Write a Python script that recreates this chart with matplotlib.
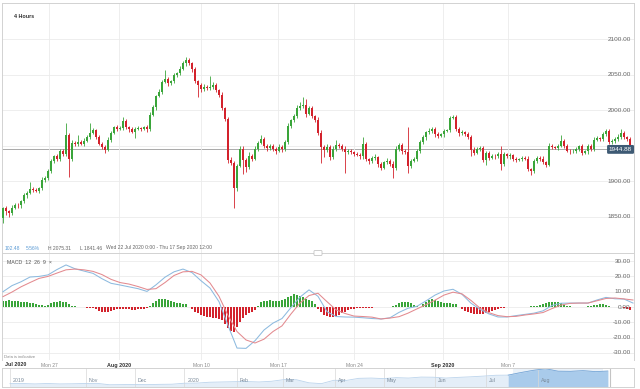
import matplotlib
matplotlib.use("Agg")
import matplotlib.pyplot as plt
import matplotlib.transforms as mtransforms
from matplotlib.patches import FancyBboxPatch
import numpy as np

plt.rcParams['font.family'] = ['Liberation Sans', 'DejaVu Sans']

# ---- data (4 hour candles, 22 Jul - 17 Sep 2020) ----
first_open = 1848.0
closes = [
    1862, 1858, 1856, 1863, 1867, 1866, 1872, 1880, 1884, 1889,
    1888, 1887, 1890, 1902, 1904, 1915, 1928, 1935, 1931, 1942,
    1938, 1965, 1932, 1954, 1952, 1955, 1953, 1957, 1962, 1968,
    1972, 1962, 1953, 1948, 1944, 1958, 1968, 1976, 1974, 1975,
    1985, 1976, 1973, 1970, 1974, 1975, 1974, 1976, 1973, 1994,
    2004, 2020, 2026, 2040, 2044, 2038, 2041, 2049, 2052, 2058,
    2066, 2071, 2066, 2058, 2041, 2035, 2030, 2033, 2031, 2033,
    2036, 2028, 2022, 2003, 1988, 1930, 1926, 1890, 1922, 1945,
    1930, 1920, 1936, 1932, 1946, 1954, 1959, 1950, 1947, 1949,
    1946, 1943, 1948, 1946, 1955, 1978, 1986, 1992, 2003, 2006,
    2008, 1995, 2003, 1992, 1986, 1968, 1948, 1944, 1948, 1934,
    1945, 1951, 1950, 1946, 1941, 1943, 1941, 1939, 1937, 1935,
    1952, 1931, 1928, 1933, 1934, 1924, 1919, 1927, 1929, 1925,
    1918, 1945, 1951, 1943, 1941, 1921, 1929, 1932, 1942, 1955,
    1962, 1969, 1971, 1973, 1967, 1964, 1966, 1971, 1972, 1989,
    1991, 1974, 1968, 1969, 1966, 1962, 1944, 1940, 1945, 1947,
    1930, 1940, 1933, 1936, 1935, 1938, 1924, 1938, 1935, 1937,
    1931, 1930, 1931, 1933, 1932, 1917, 1915, 1928, 1933, 1932,
    1927, 1923, 1950, 1948, 1947, 1950, 1957, 1950, 1943, 1942,
    1943, 1945, 1949, 1940, 1942, 1949, 1945, 1958, 1961, 1960,
    1966, 1971, 1955, 1957, 1959, 1963, 1968, 1962, 1960, 1944.88,
]
upper_wick = [
    2, 3, 2, 4, 2, 3, 2, 3, 2, 10,
    3, 2, 2, 4, 3, 2, 3, 2, 4, 3,
    3, 17, 3, 4, 2, 10, 3, 4, 3, 14,
    3, 2, 3, 2, 3, 4, 3, 2, 3, 3,
    6, 3, 2, 3, 2, 3, 2, 2, 3, 4,
    3, 2, 4, 3, 13, 3, 2, 3, 2, 4,
    3, 4.31, 3, 2, 3, 2, 3, 4, 3, 15,
    4, 3, 2, 3, 2, 3, 4, 3, 3, 4,
    4, 3, 5, 3, 4, 3, 6, 3, 2, 3,
    3, 2, 4, 3, 3, 4, 2, 3, 4, 5,
    10, 8, 3, 3, 2, 5, 4, 3, 4, 3,
    4, 7, 3, 2, 3, 2, 3, 2, 2, 3,
    11, 3, 2, 3, 4, 2, 3, 2, 4, 3,
    3, 4, 3, 3, 2, 36, 3, 2, 3, 3,
    3, 2, 4, 3, 4, 3, 2, 3, 2, 3,
    3, 2, 3, 3, 2, 3, 3, 4, 3, 2,
    3, 3, 2, 3, 2, 3, 11, 3, 2, 3,
    2, 3, 2, 3, 2, 3, 2, 4, 3, 2,
    3, 2, 4, 3, 2, 3, 8, 3, 2, 3,
    2, 3, 2, 3, 2, 3, 3, 4, 3, 2,
    3, 2, 3, 2, 3, 3, 6, 3, 2, 3,
]
lower_wick = [
    6.54, 5, 7, 3, 2, 4, 3, 2, 3, 2,
    3, 2, 3, 2, 3, 2, 3, 2, 3, 2,
    3, 2, 26, 3, 2, 3, 2, 3, 2, 3,
    2, 3, 2, 3, 4, 2, 3, 2, 3, 2,
    3, 2, 3, 2, 9, 2, 3, 2, 3, 2,
    2, 3, 2, 3, 2, 4, 2, 3, 2, 3,
    2, 3, 2, 4, 3, 17, 5, 3, 2, 3,
    3, 2, 3, 2, 3, 4, 3, 27, 3, 2,
    20, 7, 3, 4, 2, 3, 2, 3, 4, 3,
    3, 4, 2, 5, 3, 2, 3, 2, 3, 2,
    3, 4, 2, 3, 2, 3, 22, 10, 3, 4,
    3, 2, 3, 4, 29, 3, 2, 3, 2, 3,
    3, 2, 3, 2, 3, 4, 3, 2, 3, 4,
    13, 2, 3, 4, 3, 9, 3, 2, 3, 2,
    3, 4, 2, 3, 4, 3, 2, 3, 2, 3,
    2, 3, 4, 3, 2, 3, 9, 3, 2, 3,
    3, 7, 3, 2, 3, 2, 8, 3, 2, 3,
    2, 3, 2, 3, 2, 3, 6, 3, 2, 3,
    2, 3, 2, 3, 2, 3, 2, 3, 2, 3,
    2, 3, 2, 3, 2, 3, 2, 3, 2, 3,
    3, 2, 3, 2, 3, 2, 3, 2, 3, 2,
]

# MACD(12,26,9) lines, one point every 3 candles
macd_line = [
    10, 14, 16.5, 19.6, 20, 21, 24.5, 27.5, 25, 23.5,
    22, 18.5, 15.5, 14.4, 13.2, 12, 10.2, 14.5, 19.5, 23,
    24.8, 22.5, 17.2, 12.4, 3.5, -12, -26.8, -27, -22, -15,
    -10.5, -7.5, -0.3, 6.5, 11.2, 7, -3, -6.2, -6.5, -6.6,
    -7, -7.5, -7.8, -7, -3.5, -0.8, 0.5, 4, 7.8, 10.5,
    11.6, 8.3, 2.5, -1.5, -4.5, -6.5, -6.5, -5.6, -4.8, -4,
    -2.5, 1, 2.5, 2.6, 2.6, 2.6, 4.6, 6.3, 5.4, 5.2,
    2.6,
]
signal_line = [
    6.8, 9.8, 13.2, 16, 18.7, 20, 22.2, 24.3, 24.8, 24.3,
    23.3, 21.2, 18.1, 16, 15, 13.4, 11.5, 12, 16, 20.6,
    23, 23.3, 21, 15.7, 7, -5.5, -16, -21.5, -23.5, -21,
    -16, -12.3, -4.5, 2.6, 7.5, 9, 3.5, -1.8, -4.2, -5.9,
    -6.2, -6.6, -7.8, -7.2, -6.3, -4, -1.2, 1.5, 4.5, 7.8,
    9.7, 8.6, 4.3, -0.7, -3.7, -5.6, -6.3, -6.1, -5.2, -4.5,
    -3.6, -1, 1.3, 2.4, 2.6, 2.6, 4.1, 5.6, 5.9, 5.3,
    4.6,
]
macd_hist = [
    4.0, 4.2, 4.3, 4.2, 4.1, 4.0, 3.6, 3.4, 3.2, 2.9,
    2.6, 2.3, 1.6, 1.2, 1.0, 1.3, 2.4, 3.2, 3.6, 3.8,
    3.5, 3.4, 2.0, 1.0, 0.5, 0.2, -0.2, -0.3, -0.5, -0.6,
    -0.7, -1.2, -2.3, -3.0, -3.4, -3.2, -2.6, -2.0, -1.6, -1.3,
    -1.2, -1.3, -1.6, -1.8, -1.7, -1.5, -1.3, -1.0, -0.6, 0.4,
    2.5, 4.0, 5.0, 5.5, 5.3, 4.6, 3.8, 3.0, 2.6, 2.4,
    2.2, 1.8, 0.3, -1.5, -3.0, -4.2, -5.0, -5.6, -6.2, -6.6,
    -7.0, -7.4, -7.6, -8.5, -11.0, -13.5, -15.5, -16.3, -13.0, -9.5,
    -7.0, -5.0, -4.0, -3.4, -2.0, 1.0, 3.0, 4.0, 4.2, 4.3,
    4.2, 4.0, 4.2, 4.6, 5.5, 6.5, 7.5, 8.3, 8.0, 7.3,
    6.5, 5.5, 4.6, 3.8, 2.0, -1.5, -3.5, -5.0, -6.0, -6.5,
    -6.4, -5.8, -5.0, -4.0, -3.0, -2.2, -1.6, -1.2, -0.9, -0.7,
    -0.6, -0.8, -0.5, -0.4, -0.3, 0.2, -0.3, -0.2, 0.3, -0.2,
    0.5, 1.5, 2.5, 3.0, 3.3, 3.1, 2.4, 1.5, 0.4, 0.3,
    2.0, 3.5, 4.6, 5.2, 4.9, 4.0, 3.0, 2.8, 2.6, 2.5,
    2.3, 1.8, 0.3, -1.0, -2.3, -3.3, -4.0, -4.6, -4.8, -4.8,
    -4.5, -4.0, -3.2, -2.5, -1.8, -1.2, -0.7, -0.4, -0.2, -0.2,
    0.1, -0.1, 0.2, 0.3, -0.1, 0.2, 0.4, 0.8, 1.0, 1.3,
    1.8, 2.5, 3.0, 3.3, 3.3, 3.0, 2.4, 1.6, 0.8, 0.4,
    0.2, 0.1, 0.3, -0.1, 0.2, 0.4, 0.9, 1.3, 1.6, 1.7,
    1.8, 1.5, 0.6, 0.2, -0.2, -0.1, 0.3, -0.4, -1.0, -2.0,
]

price_ticks = [1850, 1900, 1950, 2000, 2050, 2100]
price_labelled = [1850, 1900, 2000, 2050, 2100]
macd_ticks = [-30, -20, -10, 0, 10, 20, 30]
date_labels = ["Mon 27", "Aug 2020", "Mon 10", "Mon 17", "Mon 24", "Sep 2020", "Mon 7"]

# weekly closes for the navigator strip (Sep 2019 - Sep 2020)
nav_values = [
    1500, 1505, 1490, 1505, 1490, 1495, 1505, 1510, 1460, 1465,
    1470, 1465, 1475, 1480, 1515, 1520, 1550, 1560, 1570, 1575,
    1560, 1585, 1645, 1640, 1530, 1500, 1620, 1615, 1690, 1700,
    1680, 1715, 1700, 1735, 1730, 1700, 1725, 1745, 1770, 1800,
    1805, 1895, 1975, 2035, 1945, 1940, 1965, 1930, 1950,
]
nav_months = ["2019", "Nov", "Dec", "2020", "Feb", "Mar", "Apr", "May", "Jun", "Jul", "Aug"]

# ---- layout (pixel based) ----
W, H = 640, 389
UP, DOWN = '#3aa53a', '#d3222c'
GRID = '#ebebeb'
EDGE = '#d2d2d2'
TXT = '#666666'


def box(x0, y0, x1, y1):
    return [x0 / W, 1 - y1 / H, (x1 - x0) / W, (y1 - y0) / H]


def fx(x):
    return x / W


def fy(y):
    return 1 - y / H


fig = plt.figure(figsize=(W / 100, H / 100), dpi=100)
fig.patch.set_facecolor('white')

closes = np.array(closes, dtype=float)
n = len(closes)
idx = np.arange(n)
opens = np.concatenate([[first_open], closes[:-1]])
highs = np.maximum(opens, closes) + np.array(upper_wick)
lows = np.minimum(opens, closes) - np.array(lower_wick)
col = np.where(closes >= opens, UP, DOWN)

date_pos = [15.3, 38.7, 66, 91.7, 117, 146.7, 168.3]
xlo, xhi = -1 / 3, 631 / 3

# price panel
ax_p = fig.add_axes(box(2, 3, 634, 253))
ax_p.vlines(idx, lows, highs, colors=col, lw=0.6, zorder=2)
ax_p.bar(idx, np.maximum(np.abs(closes - opens), 0.9), bottom=np.minimum(opens, closes),
         width=0.72, color=col, lw=0, zorder=3)
ax_p.axhline(closes[-1], color='#a9a9a9', lw=0.7, zorder=1)
ax_p.set_xlim(xlo, xhi)
ax_p.set_ylim(1799, 2151)
ax_p.set_yticks(price_ticks)
ax_p.set_xticks(date_pos)
ax_p.grid(True, color=GRID, lw=0.6, zorder=0)
ax_p.tick_params(length=0, labelleft=False, labelbottom=False)
for s in ax_p.spines.values():
    s.set_color(EDGE)
    s.set_linewidth(0.7)

tr_p = mtransforms.blended_transform_factory(ax_p.transAxes, ax_p.transData)
for v in price_labelled:
    ax_p.text(0.995, v, f"{v:.2f}", transform=tr_p, ha='right', va='center',
              fontsize=4.6, color=TXT)
ax_p.text(0.997, closes[-1], f"{closes[-1]:.2f}", transform=tr_p, ha='right', va='center',
          fontsize=4.6, color='white', zorder=5,
          bbox=dict(boxstyle='round,pad=0.3,rounding_size=0.2', fc='#3e5a74', ec='none'))

fig.text(fx(14), fy(17), "4 Hours", fontsize=3.9, fontweight='bold', color='#333333',
         ha='left', va='center')

info = [(5, "102.48", '#5b9bd5'), (26, "5.56%", '#5b9bd5'), (48, "H 2075.31", TXT),
        (80, "L 1841.46", TXT), (106, "Wed 22 Jul 2020 0:00 - Thu 17 Sep 2020 12:00", TXT)]
for x, s, c in info:
    fig.text(fx(x), fy(248), s, fontsize=3.6, color=c, ha='left', va='center')

# MACD panel
ax_m = fig.add_axes(box(2, 253, 634, 360))
hcol = np.where(np.array(macd_hist) >= 0, UP, DOWN)
ax_m.bar(idx, macd_hist, width=0.62, color=hcol, lw=0, zorder=2)
line_idx = np.arange(len(macd_line)) * 3
ax_m.plot(line_idx, macd_line, color='#8dbadf', lw=0.75, zorder=3)
ax_m.plot(line_idx, signal_line, color='#e38a8f', lw=0.75, zorder=3)
ax_m.set_xlim(xlo, xhi)
ax_m.set_ylim(-34.6, 35.3)
ax_m.set_yticks(macd_ticks)
ax_m.set_xticks(date_pos)
ax_m.grid(True, color=GRID, lw=0.6, zorder=0)
ax_m.set_xticklabels(date_labels)
ax_m.tick_params(axis='y', length=0, labelleft=False)
ax_m.tick_params(axis='x', length=0, pad=2.2, labelsize=3.6, labelcolor='#888888')
for lbl in ax_m.get_xticklabels():
    if "2020" in lbl.get_text():
        lbl.set_fontweight('bold')
        lbl.set_color('#333333')
        lbl.set_fontsize(3.9)
for k, s in ax_m.spines.items():
    s.set_color(EDGE)
    s.set_linewidth(0.7)
ax_m.spines['bottom'].set_visible(False)

tr_m = mtransforms.blended_transform_factory(ax_m.transAxes, ax_m.transData)
for v in macd_ticks:
    ax_m.text(0.995, v, f"{v:.2f}", transform=tr_m, ha='right', va='center',
              fontsize=4.6, color=TXT)

fig.text(fx(7), fy(262), "MACD  12  26  9  \u00d7", fontsize=3.8, color='#555555',
         ha='left', va='center')
fig.text(fx(4), fy(357), "Data is indicative", fontsize=3.0, color='#888888',
         ha='left', va='center')
fig.text(fx(5), fy(365), "Jul 2020", fontsize=3.9, fontweight='bold', color='#333333',
         ha='left', va='center')

# little resize handle between panels
fig.patches.append(FancyBboxPatch((fx(314), fy(255.5)), 8 / W, 5 / H,
                                  boxstyle='round,pad=0,rounding_size=0.002',
                                  transform=fig.transFigure, fc='white', ec='#bbbbbb', lw=0.5))

# navigator strip
ax_n = fig.add_axes(box(2, 368, 634, 387))
weeks = np.arange(len(nav_values))
ax_n.fill_between(weeks, nav_values, 1380, color='#e4eef8', lw=0)
ax_n.plot(weeks, nav_values, color='#bcd4ec', lw=0.6)
sel = weeks >= 40
ax_n.fill_between(weeks[sel], np.array(nav_values)[sel], 1380, color='#a9cbeb', lw=0)
ax_n.plot(weeks[sel], np.array(nav_values)[sel], color='#7aa9d8', lw=0.6)
ax_n.axvspan(40.4, 47.6, color='#d9e7f5', alpha=0.5, lw=0, zorder=0)
ax_n.axvline(48.15, color='#c4c4c4', lw=0.8)
month_pos = [0, 6.1, 10.0, 14.0, 18.2, 21.9, 26.1, 30.0, 34.1, 38.2, 42.4]
ax_n.set_xticks(month_pos)
ax_n.grid(True, axis='x', color='#d8d8d8', lw=0.5)
ax_n.tick_params(length=0, labelleft=False, labelbottom=False)
for p, m in zip(month_pos, nav_months):
    ax_n.text(p + 0.25, 0.32, m, transform=mtransforms.blended_transform_factory(
        ax_n.transData, ax_n.transAxes), fontsize=3.8, color='#7a8a9a', ha='left', va='center')
ax_n.set_xlim(-0.64, 50.1)
ax_n.set_ylim(1380, 2060)
for s in ax_n.spines.values():
    s.set_color(EDGE)
    s.set_linewidth(0.7)

fig.savefig("out.png", dpi=100)
